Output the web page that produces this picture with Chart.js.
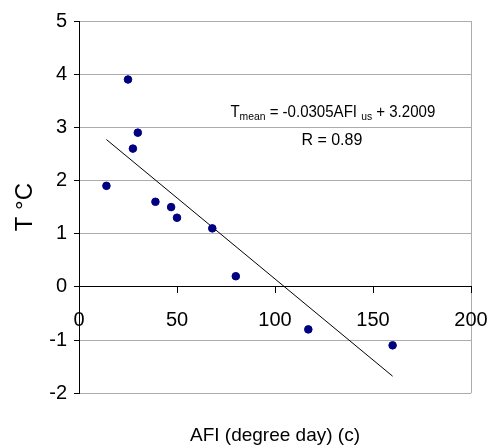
<!DOCTYPE html>
<html>
<head>
<meta charset="utf-8">
<script src="https://cdn.jsdelivr.net/npm/chart.js@4/dist/chart.umd.min.js"></script>
<style>
  html, body { margin: 0; padding: 0; background: #fff; }
  #wrap { width: 495px; height: 447px; position: relative; }
</style>
</head>
<body>
<div id="wrap"><canvas id="c" width="495" height="447"></canvas></div>
<script>
// ---- data ----
const afi = [14, 25, 27.5, 30, 39, 47, 50, 68, 80, 117, 160];
const temp = [1.9, 3.9, 2.6, 2.9, 1.6, 1.5, 1.3, 1.1, 0.2, -0.8, -1.1];
const trendX = [14, 160];
const trendY = [2.77, -1.68];
const xTicks = [0, 50, 100, 150, 200];
const yTicks = [-2, -1, 0, 1, 2, 3, 4, 5];
const xTitle = 'AFI (degree day) (c)';
const yTitle = 'T °C';
const eqParts = [
  { t: 'T', sub: false },
  { t: 'mean', sub: true },
  { t: ' = -0.0305AFI ', sub: false },
  { t: 'us', sub: true },
  { t: ' + 3.2009', sub: false }
];
const rText = 'R = 0.89';
const eqAnchor = { x: 129.5, y: 3.19 };
const rAnchor = { x: 129, y: 2.66 };

const FONT = "'Liberation Sans', Arial, sans-serif";
const GRID = '#acacac';

const annotate = {
  id: 'annotate',
  afterDatasetsDraw(chart) {
    const { ctx, scales } = chart;
    ctx.save();
    ctx.fillStyle = '#000';
    ctx.textBaseline = 'alphabetic';
    const mainF = '16px ' + FONT, subF = '11px ' + FONT;
    let total = 0;
    const widths = eqParts.map(p => {
      ctx.font = p.sub ? subF : mainF;
      const w = ctx.measureText(p.t).width;
      total += w;
      return w;
    });
    const sx = 0.94;
    let x = scales.x.getPixelForValue(eqAnchor.x) - total * sx / 2;
    const y = scales.y.getPixelForValue(eqAnchor.y);
    eqParts.forEach((p, i) => {
      ctx.font = p.sub ? subF : mainF;
      ctx.save();
      ctx.translate(x, y + (p.sub ? 3 : 0));
      ctx.scale(sx, 1);
      ctx.textAlign = 'left';
      ctx.fillText(p.t, 0, 0);
      ctx.restore();
      x += widths[i] * sx;
    });
    ctx.font = mainF;
    ctx.textAlign = 'center';
    ctx.fillText(rText, scales.x.getPixelForValue(rAnchor.x), scales.y.getPixelForValue(rAnchor.y));
    ctx.restore();
  }
};

new Chart(document.getElementById('c'), {
  type: 'scatter',
  data: {
    datasets: [
      {
        label: 'data',
        data: afi.map((v, i) => ({ x: v, y: temp[i] })),
        backgroundColor: '#000080',
        borderColor: '#000080',
        pointRadius: 3.8,
        pointHoverRadius: 3.8,
        order: 1
      },
      {
        label: 'trend',
        type: 'line',
        data: trendX.map((v, i) => ({ x: v, y: trendY[i] })),
        borderColor: '#000',
        borderWidth: 1,
        pointRadius: 0,
        fill: false,
        order: 2
      }
    ]
  },
  options: {
    responsive: false,
    animation: false,
    events: [],
    layout: { padding: { left: 0, right: 24, top: 21, bottom: 0 } },
    plugins: {
      legend: { display: false },
      tooltip: { enabled: false },
      title: {
        display: true,
        text: xTitle,
        position: 'bottom',
        fullSize: false,
        color: '#000',
        font: { family: FONT, size: 19, weight: 'normal' },
        padding: { top: 31, bottom: 0 }
      }
    },
    scales: {
      x: {
        type: 'linear',
        position: { y: 0 },
        min: 0, max: 200,
        afterBuildTicks(s) { s.ticks = xTicks.map(v => ({ value: v })); },
        afterFit(s) { s.height = 0; s.paddingLeft = 0; s.paddingRight = 0; },
        ticks: {
          color: '#000',
          font: { family: FONT, size: 20 },
          padding: 16,
          maxRotation: 0
        },
        grid: {
          drawOnChartArea: true,
          color: c => (c.tick && c.tick.value === 200) ? GRID : 'rgba(0,0,0,0)',
          tickColor: '#000',
          tickLength: 6,
          lineWidth: 1
        },
        border: { color: '#000', width: 1 }
      },
      y: {
        type: 'linear',
        min: -2, max: 5,
        afterBuildTicks(s) { s.ticks = yTicks.map(v => ({ value: v })); },
        afterFit(s) { s.width = 79; },
        ticks: {
          color: '#000',
          font: { family: FONT, size: 20 },
          padding: 7
        },
        grid: {
          color: c => (c.tick && c.tick.value === 0) ? 'rgba(0,0,0,0)' : GRID,
          tickColor: '#000',
          tickLength: 5,
          lineWidth: 1
        },
        border: { color: '#000', width: 1 },
        title: {
          display: true,
          text: yTitle,
          color: '#000',
          font: { family: FONT, size: 24 },
          padding: { top: 11, bottom: 0 }
        }
      }
    }
  },
  plugins: [annotate]
});
</script>
</body>
</html>
